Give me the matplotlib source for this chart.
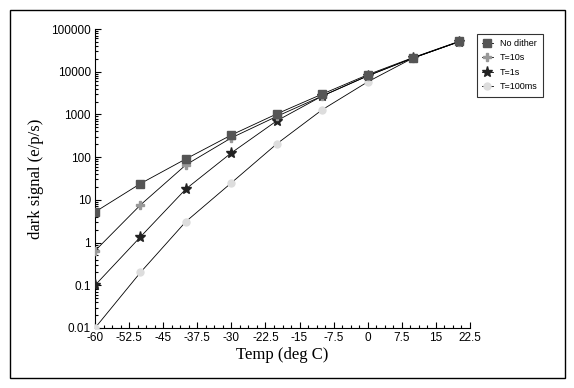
import numpy as np
import matplotlib.pyplot as plt
from matplotlib.ticker import FixedLocator, FuncFormatter, LogLocator, NullFormatter
from matplotlib.patches import Rectangle

temp = [-60, -50, -40, -30, -20, -10, 0, 10, 20]
no_dither = [5.2, 24, 91, 330, 1030, 3000, 8500, 21500, 51000]
t_10s = [0.64, 7.6, 66, 283, 900, 2700, 8000, 21000, 50000]
t_1s = [0.1, 1.36, 18, 126, 710, 2700, 8000, 21000, 50000]
t_100ms = [0.01, 0.2, 3.1, 25, 205, 1290, 5800, 21000, 50000]

xticks = [-60, -52.5, -45, -37.5, -30, -22.5, -15, -7.5, 0, 7.5, 15, 22.5]

fig = plt.figure(figsize=(5.74, 3.88), dpi=100)
fig.patches.append(Rectangle((10 / 574, 10 / 388), 555 / 574, 368 / 388,
                             transform=fig.transFigure, fill=False,
                             edgecolor='black', linewidth=1.0))

ax = fig.add_axes([95 / 574, 60 / 388, 375 / 574, 299 / 388])

# later series are drawn first so "No dither" ends on top where they meet
ax.plot(temp, no_dither, '-s', color='black', lw=0.6, markersize=6, zorder=6,
        markerfacecolor='#555555', markeredgecolor='#555555', label='No dither')
ax.plot(temp, t_10s, '-P', color='black', lw=0.6, markersize=6, zorder=5,
        markerfacecolor='#999999', markeredgecolor='#999999', label='T=10s')
ax.plot(temp, t_1s, '-*', color='black', lw=0.6, markersize=8, zorder=4,
        markerfacecolor='#222222', markeredgecolor='#222222', label='T=1s')
ax.plot(temp, t_100ms, '-o', color='black', lw=0.6, markersize=5, zorder=3,
        markerfacecolor='#dddddd', markeredgecolor='#dddddd', label='T=100ms')

ax.set_yscale('log')
ax.set_xlim(-60, 22.5)
ax.set_ylim(0.01, 100000)

ax.xaxis.set_major_locator(FixedLocator(xticks))
ax.xaxis.set_minor_locator(FixedLocator(np.arange(-60, 22.6, 1.875)))
ax.xaxis.set_major_formatter(FuncFormatter(lambda v, p: ('%g' % v)))
ax.yaxis.set_major_locator(LogLocator(base=10, numticks=20))
ax.yaxis.set_minor_locator(LogLocator(base=10, subs=np.arange(2, 10), numticks=20))
ax.yaxis.set_minor_formatter(NullFormatter())
ax.yaxis.set_major_formatter(FuncFormatter(lambda v, p: ('%g' % v) if v < 1e5 else '100000'))

ax.tick_params(which='both', direction='in', labelsize=8.5, pad=3, width=0.8)
ax.tick_params(which='major', length=4)
ax.tick_params(which='minor', length=2)
for s in ['top', 'right']:
    ax.spines[s].set_visible(False)
for lab in ax.get_xticklabels() + ax.get_yticklabels():
    lab.set_family('Liberation Sans')

ax.set_xlabel('Temp (deg C)', family='Liberation Serif', fontsize=12, labelpad=2)
ax.set_ylabel('dark signal (e/p/s)', family='Liberation Serif', fontsize=12, labelpad=5)

leg = ax.legend(loc='upper left', bbox_to_anchor=(472 / 574, 359 / 388),
                bbox_transform=fig.transFigure, frameon=True,
                fancybox=False, edgecolor='black', handlelength=1.2,
                handletextpad=0.8, borderpad=0.6, labelspacing=0.6,
                prop={'family': 'Liberation Sans', 'size': 6.5})
leg.get_frame().set_linewidth(0.8)

plt.savefig('out.png', dpi=100)
